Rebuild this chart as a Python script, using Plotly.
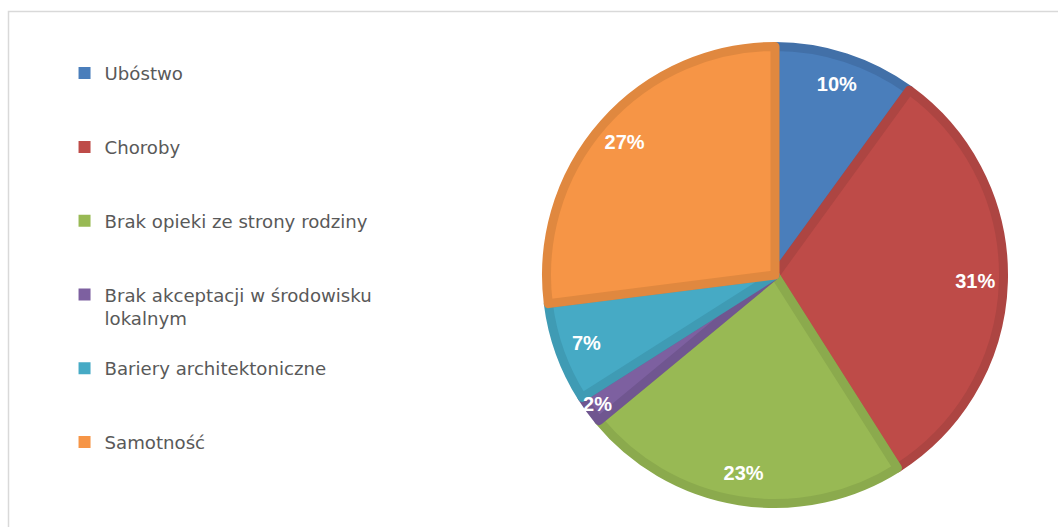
import plotly.graph_objects as go

labels = ["Ubóstwo", "Choroby", "Brak opieki ze strony rodziny",
          "Brak akceptacji w środowisku<br>lokalnym", "Bariery architektoniczne", "Samotność"]
values = [10, 31, 23, 2, 7, 27]
fill_colors = ["#4A7EBB", "#BE4B48", "#98B954", "#7D60A0", "#46AAC5", "#F69546"]
edge_colors = ["#4270A8", "#AD4542", "#8BAA4D", "#705690", "#3F9BB4", "#E0883F"]

W, H = 1058, 527
cx, cy, R, rim = 775, 275, 233, 9


def dom(r):
    return dict(x=[(cx - r) / W, (cx + r) / W], y=[(H - cy - r) / H, (H - cy + r) / H])


# legend labels padded to three lines so entries are spaced like the original
legend_labels = [l + "<br> " * (3 - 1 - l.count("<br>")) for l in labels]

common = dict(labels=legend_labels, values=values, sort=False, direction="clockwise", rotation=0)

fig = go.Figure()
# base pie (also provides the solid legend squares)
fig.add_trace(go.Pie(
    **common, marker=dict(colors=fill_colors, line=dict(width=0)),
    textinfo="none", hoverinfo="skip", showlegend=True, domain=dom(R - 1),
))
# slices with the darker inset border
fig.add_trace(go.Pie(
    **common, marker=dict(colors=fill_colors, line=dict(color=edge_colors, width=rim)),
    textinfo="none", hoverinfo="skip", showlegend=False, domain=dom(R - rim / 2),
))
# transparent ring carrying the percentage labels near the outer edge
fig.add_trace(go.Pie(
    **common, hole=0.72,
    marker=dict(colors=["rgba(0,0,0,0)"] * len(values), line=dict(width=0)),
    texttemplate="<b>%{percent:.0%}</b>", textposition="inside", insidetextorientation="horizontal",
    textfont=dict(family="Liberation Sans", size=20, color="white", style="normal"),
    hoverinfo="skip", showlegend=False, domain=dom(R),
))

fig.update_layout(
    width=W, height=H,
    margin=dict(l=0, r=0, t=0, b=0),
    paper_bgcolor="white", plot_bgcolor="white",
    uniformtext=dict(minsize=20, mode="show"),
    legend=dict(x=0.061, y=0.896, xanchor="left", yanchor="top", valign="top",
                font=dict(family="DejaVu Sans", size=18.15, color="#595959"),
                bgcolor="rgba(0,0,0,0)", traceorder="normal"),
    shapes=[dict(type="path", xref="paper", yref="paper",
                 path=f"M {8.5 / W},-0.05 L {8.5 / W},{1 - 11.5 / H} L 1.05,{1 - 11.5 / H}",
                 line=dict(color="#D9D9D9", width=1.5))],
)

fig.write_html("out.html", config={"displayModeBar": False},
               post_script="document.body.style.margin='0px';")
